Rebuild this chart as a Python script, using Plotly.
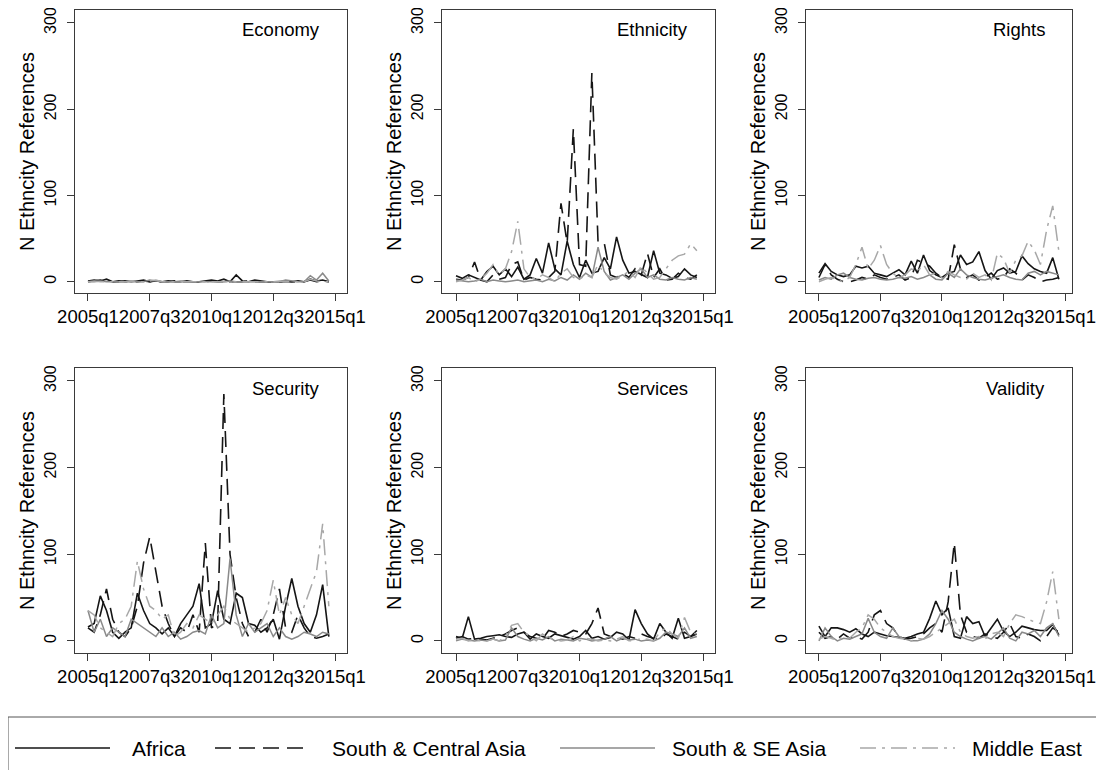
import plotly.graph_objects as go

# ---------------- data ----------------
# Stata quarterly dates: 180 = 2005q1 ... 219 = 2014q4
quarters = list(range(180, 220))
tick_vals = [180, 190, 200, 210, 220]
tick_text = ["2005q1", "2007q3", "2010q1", "2012q3", "2015q1"]
y_ticks = [0, 100, 200, 300]

regions = ["Africa", "South & Central Asia", "South & SE Asia", "Middle East"]
panels = ["Economy", "Ethnicity", "Rights", "Security", "Services", "Validity"]

economy_africa = [1,2,1,3,0,0,1,0,1,2,0,1,0,1,0,0,1,0,0,1,2,1,3,0,8,1,0,2,1,0,0,0,1,0,1,0,3,1,2,0]
economy_sca    = [0,1,2,0,0,1,0,0,0,1,0,0,0,0,1,0,0,0,0,0,1,0,0,0,0,0,1,0,0,0,0,0,0,0,0,0,2,0,1,0]
economy_ssea   = [0,0,1,0,0,0,0,1,0,0,2,1,0,0,0,1,0,0,0,0,0,0,0,1,0,0,0,0,0,0,0,0,2,1,0,0,7,2,10,1]
economy_me     = [0,1,0,0,0,0,0,0,0,0,1,2,0,0,0,0,0,0,0,0,0,0,0,0,0,0,0,0,0,0,0,1,0,0,0,0,3,1,0,0]

ethnicity_africa = [7,4,8,5,2,12,18,8,15,6,17,3,8,27,10,45,15,8,47,20,5,25,10,12,28,15,52,25,10,12,8,5,36,10,8,4,6,15,8,5]
ethnicity_sca    = [3,2,5,23,2,0,8,3,5,20,23,2,5,3,2,5,12,91,45,177,20,18,242,46,45,8,5,10,5,15,8,33,5,15,2,3,10,5,3,8]
ethnicity_ssea   = [2,1,0,1,3,0,2,1,0,1,2,0,1,2,0,3,1,5,2,8,3,10,5,40,12,2,5,8,3,10,15,5,8,3,2,5,3,2,5,3]
ethnicity_me     = [0,2,5,0,3,10,20,8,15,35,70,15,5,3,8,5,0,10,15,5,3,8,5,20,10,5,3,8,12,5,18,10,3,5,15,25,30,32,44,36]

rights_africa = [10,21,12,8,6,8,18,16,18,10,8,6,10,14,8,24,10,31,13,8,5,10,12,31,20,23,35,13,3,13,16,10,12,30,21,15,12,10,28,3]
rights_sca    = [5,20,8,3,0,0,2,5,3,8,5,3,5,8,2,5,25,22,18,10,5,3,43,15,5,8,2,5,10,3,5,15,10,2,8,5,0,2,3,5]
rights_ssea   = [2,5,3,8,10,5,3,2,4,5,3,2,3,5,4,6,3,5,8,3,2,10,5,15,8,5,3,2,4,6,8,5,3,2,10,12,8,12,10,8]
rights_me     = [0,3,5,2,0,5,20,40,15,25,42,20,10,5,8,15,12,20,8,10,5,12,8,5,3,10,5,8,2,33,27,10,25,30,47,37,20,60,88,35]

security_africa = [16,20,52,35,10,3,10,15,55,35,20,15,8,15,5,20,30,40,66,15,20,58,25,20,55,50,20,18,10,15,25,2,40,72,40,20,10,30,65,5]
security_sca    = [15,10,30,60,25,10,5,15,40,90,120,80,40,20,5,15,10,30,10,113,15,20,285,100,50,20,5,10,25,10,30,60,15,10,30,15,5,3,5,8]
security_ssea   = [35,10,25,5,15,10,5,25,20,15,10,5,15,5,10,2,5,10,12,8,30,15,20,95,30,5,20,10,15,20,5,15,5,2,5,10,8,5,10,8]
security_me     = [35,30,15,10,5,20,25,40,92,60,40,35,25,30,5,10,20,15,30,25,20,30,40,25,20,15,10,15,20,35,70,30,50,30,20,40,60,80,135,40]

services_africa = [5,3,28,2,3,5,6,7,5,4,8,10,2,8,5,3,8,6,4,2,5,12,3,5,2,4,10,8,1,36,20,8,2,20,10,3,26,3,5,12]
services_sca    = [3,5,2,3,2,1,3,5,8,12,15,10,5,3,2,12,10,5,8,12,10,8,20,38,8,5,3,2,5,3,8,5,3,2,8,5,2,10,5,8]
services_ssea   = [0,2,1,0,1,0,2,0,1,15,5,2,0,3,1,5,0,2,1,0,3,2,0,1,2,5,0,3,1,2,0,1,0,3,10,8,5,15,3,5]
services_me     = [2,3,0,1,0,0,2,0,5,18,20,10,5,0,8,3,2,0,1,5,0,3,2,0,1,0,2,5,0,0,3,2,0,10,15,8,3,27,10,8]

validity_africa = [17,5,15,15,13,10,14,8,5,10,8,6,5,4,3,5,8,10,26,46,30,38,5,3,28,20,22,5,15,25,11,5,10,17,15,13,12,12,19,7]
validity_sca    = [10,3,5,2,8,3,5,2,10,30,35,20,15,5,2,3,5,8,15,20,10,45,113,30,10,5,3,8,5,3,10,20,5,3,8,5,0,5,15,10]
validity_ssea   = [0,15,5,0,3,2,5,8,26,10,5,3,15,5,2,0,0,2,8,20,35,25,10,5,2,0,3,5,2,8,15,3,0,10,8,12,5,15,20,5]
validity_me     = [2,5,3,0,5,3,10,15,30,25,15,10,5,3,2,0,3,2,5,10,15,20,25,10,5,3,5,2,8,10,5,20,30,28,25,22,20,45,80,25]

panel_data = {
    "Economy":   [economy_africa, economy_sca, economy_ssea, economy_me],
    "Ethnicity": [ethnicity_africa, ethnicity_sca, ethnicity_ssea, ethnicity_me],
    "Rights":    [rights_africa, rights_sca, rights_ssea, rights_me],
    "Security":  [security_africa, security_sca, security_ssea, security_me],
    "Services":  [services_africa, services_sca, services_ssea, services_me],
    "Validity":  [validity_africa, validity_sca, validity_ssea, validity_me],
}

# ---------------- styling ----------------
# page body has an 8px margin: the figure fills the rest of the window
OFF = 8
W, H = 1104 - OFF, 770 - OFF
FONT = "Liberation Sans, Arial, Helvetica, sans-serif"
styles = [
    dict(color="#151515", width=1.6, dash="solid"),
    dict(color="#151515", width=1.6, dash="16px,8px"),
    dict(color="#8a8a8a", width=1.5, dash="solid"),
    dict(color="#a8a8a8", width=1.5, dash="16px,6px,3px,6px"),
]


def px_x(v):
    return (v - OFF) / W


def px_y(v):
    return 1 - (v - OFF) / H


# panel boxes in window pixels (left, right) and x-axis ranges matching tick spots
col_px = [(75, 347), (442, 715), (806, 1072)]
col_range = [[177.9, 221.94], [177.73, 221.94], [177.9, 221.13]]
row_px = [(10, 293), (368, 653)]

fig = go.Figure()
annotations = []
shapes = []
layout_axes = {}

for i, pname in enumerate(panels):
    r, c = divmod(i, 3)
    n = i + 1
    xa = "x" if n == 1 else f"x{n}"
    ya = "y" if n == 1 else f"y{n}"
    xl, xr = col_px[c]
    yt, yb = row_px[r]
    for k, reg in enumerate(regions):
        fig.add_trace(go.Scatter(
            x=quarters, y=panel_data[pname][k], mode="lines", name=reg,
            line=styles[k], xaxis=xa, yaxis=ya, showlegend=False,
        ))
    axis_common = dict(showgrid=False, zeroline=False, showline=True, mirror=True,
                       automargin=False, ticklabeloverflow="allow",
                       linecolor="#3a3a3a", linewidth=1, ticks="outside", ticklen=7,
                       tickcolor="#3a3a3a", tickfont=dict(family=FONT, size=18.5, color="black"))
    layout_axes["xaxis" if n == 1 else f"xaxis{n}"] = dict(
        axis_common, domain=[px_x(xl), px_x(xr)], anchor=ya, range=col_range[c],
        tickmode="array", tickvals=tick_vals, ticktext=tick_text, tickangle=0,
    )
    yb_val = -13 if r == 0 else -14
    layout_axes["yaxis" if n == 1 else f"yaxis{n}"] = dict(
        axis_common, domain=[px_y(yb), px_y(yt)], anchor=xa, range=[yb_val, 315],
        tickmode="array", tickvals=y_ticks, tickangle=-90, ticklabelstandoff=5,
        tickfont=dict(family=FONT, size=16, color="black"),
        title=dict(text="N Ethncity References", font=dict(family=FONT, size=20, color="black"), standoff=1),
    )
    annotations.append(dict(
        text=pname, xref="paper", yref="paper", x=px_x(xr - 25), y=px_y(yt + 20),
        xanchor="right", yanchor="middle", showarrow=False,
        font=dict(family=FONT, size=18.5, color="black"),
    ))

# ---------------- legend (box along the bottom) ----------------
shapes.append(dict(type="rect", xref="paper", yref="paper",
                   x0=px_x(8), x1=px_x(1097), y0=px_y(780), y1=px_y(717),
                   line=dict(color="#555555", width=1), fillcolor="rgba(0,0,0,0)"))
leg_items = [(15, 110, 130), (215, 310, 330), (560, 655, 670), (860, 955, 970)]
ly = px_y(748)
for k, reg in enumerate(regions):
    x0, x1, tx = leg_items[k]
    shapes.append(dict(type="line", xref="paper", yref="paper",
                       x0=px_x(x0), x1=px_x(x1), y0=ly, y1=ly, line=styles[k]))
    annotations.append(dict(text=reg, xref="paper", yref="paper", x=px_x(tx), y=ly,
                            xanchor="left", yanchor="middle", showarrow=False,
                            font=dict(family=FONT, size=21, color="black")))

fig.update_layout(
    width=W, height=H, margin=dict(l=0, r=0, t=0, b=0, autoexpand=False),
    paper_bgcolor="white", plot_bgcolor="white",
    annotations=annotations, shapes=shapes, showlegend=False,
    **layout_axes,
)

fig.write_html("out.html")
